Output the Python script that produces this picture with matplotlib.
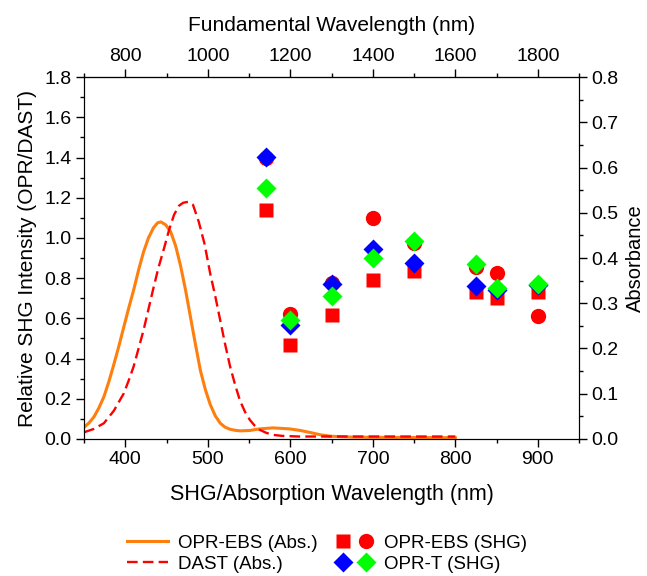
import numpy as np
import matplotlib
matplotlib.use('Agg')
import matplotlib.pyplot as plt
from matplotlib.ticker import MultipleLocator
from matplotlib.legend_handler import HandlerTuple
from matplotlib.lines import Line2D

plt.rcParams['font.family'] = ['Liberation Sans', 'DejaVu Sans']

# SHG data (relative intensity, left axis)
shg_wl = [570, 600, 650, 700, 750, 825, 850, 900]
ebs_square = [1.14, 0.465, 0.615, 0.79, 0.835, 0.73, 0.70, 0.73]
ebs_circle = [1.40, 0.62, 0.775, 1.10, 0.975, 0.855, 0.825, 0.61]
oprt_blue = [1.405, 0.565, 0.77, 0.945, 0.875, 0.76, 0.74, 0.765]
oprt_green = [1.25, 0.59, 0.71, 0.90, 0.985, 0.87, 0.75, 0.77]

# absorption spectra (right axis)
ebs_abs_wl = [350, 356, 362, 368, 374, 380, 386, 392, 398, 404, 410, 416, 422, 428,
              434, 439, 443, 449, 455, 461, 467, 473, 479, 485, 491, 497, 503, 509,
              515, 521, 527, 533, 539, 551, 563, 579, 599, 612, 624, 637, 650, 675,
              700, 800]
ebs_abs = [0.0258, 0.0356, 0.0489, 0.0689, 0.0933, 0.1267, 0.1644, 0.2044, 0.2467,
           0.2889, 0.3289, 0.3733, 0.4133, 0.4444, 0.4667, 0.4778, 0.4800, 0.4733,
           0.4578, 0.4267, 0.3822, 0.3289, 0.2689, 0.2089, 0.1511, 0.1089, 0.0756,
           0.0511, 0.0347, 0.0258, 0.0213, 0.0191, 0.0178, 0.0187, 0.0222, 0.0244,
           0.0222, 0.0187, 0.0142, 0.0089, 0.0058, 0.0040, 0.0036, 0.0027]
dast_abs_wl = [350, 362, 374, 386, 398, 404, 410, 416, 422, 428, 434, 440, 447, 453,
               459, 465, 470, 476, 482, 489, 496, 503, 509, 515, 521, 527, 533, 539,
               545, 551, 557, 563, 571, 579, 590, 610, 700, 800]
dast_abs = [0.0147, 0.0222, 0.0347, 0.0622, 0.1004, 0.1289, 0.1600, 0.2000, 0.2400,
            0.2867, 0.3333, 0.3778, 0.4222, 0.4622, 0.4956, 0.5156, 0.5222, 0.5244,
            0.5178, 0.4800, 0.4311, 0.3644, 0.3156, 0.2622, 0.2089, 0.1600, 0.1200,
            0.0844, 0.0600, 0.0418, 0.0289, 0.0200, 0.0133, 0.0089, 0.0067, 0.0053,
            0.0053, 0.0053]

orange = '#ff7f0e'
red = '#ff0000'
dash = (0, (4.5, 2.2))

fig = plt.figure(figsize=(6.47, 5.76), dpi=100)
ax = fig.add_axes([0.130, 0.238, 0.765, 0.628])
ax2 = ax.twinx()

# absorption curves
ax2.plot(ebs_abs_wl, ebs_abs, color=orange, lw=2.2, zorder=1)
ax2.plot(dast_abs_wl, dast_abs, color=red, lw=1.7, ls=dash, zorder=1)
ax2.set_ylim(0, 0.8)
ax2.yaxis.set_major_locator(MultipleLocator(0.1))
ax2.yaxis.set_minor_locator(MultipleLocator(0.05))
ax2.set_ylabel('Absorbance', fontsize=14.5, labelpad=5)

# SHG points on top
ax.set_zorder(ax2.get_zorder() + 1)
ax.patch.set_visible(False)
ax.plot(shg_wl, ebs_square, 's', color=red, ms=10, mec='none')
ax.plot(shg_wl, ebs_circle, 'o', color=red, ms=11, mec='none')
ax.plot(shg_wl, oprt_blue, 'D', color='#0000ff', ms=10, mec='none')
ax.plot(shg_wl, oprt_green, 'D', color='#00ff00', ms=10, mec='none')

ax.set_xlim(350, 950)
ax.set_ylim(0, 1.8)
ax.xaxis.set_minor_locator(MultipleLocator(50))
ax.yaxis.set_major_locator(MultipleLocator(0.2))
ax.yaxis.set_minor_locator(MultipleLocator(0.1))
ax.set_xticks([400, 500, 600, 700, 800, 900])
ax.set_xlabel('SHG/Absorption Wavelength (nm)', fontsize=15.5, labelpad=11)
ax.set_ylabel('Relative SHG Intensity (OPR/DAST)', fontsize=15, labelpad=5)

top = ax.secondary_xaxis('top', functions=(lambda x: x * 2, lambda x: x / 2))
top.set_xticks([800, 1000, 1200, 1400, 1600, 1800])
top.xaxis.set_minor_locator(MultipleLocator(100))
top.set_xlabel('Fundamental Wavelength (nm)', fontsize=15, labelpad=12)

for a in (ax, ax2, top):
    a.tick_params(which='major', direction='out', length=6, width=1, labelsize=14, pad=3)
    a.tick_params(which='minor', direction='out', length=3, width=1)

# legend
l_ebs = Line2D([], [], color=orange, lw=2.2)
l_dast = Line2D([], [], color=red, lw=1.7, ls=dash)
sq = Line2D([], [], marker='s', color=red, ls='none', ms=10, mec='none')
ci = Line2D([], [], marker='o', color=red, ls='none', ms=11, mec='none')
bd = Line2D([], [], marker='D', color='#0000ff', ls='none', ms=10, mec='none')
gd = Line2D([], [], marker='D', color='#00ff00', ls='none', ms=10, mec='none')
fig.legend([l_ebs, l_dast], ['OPR-EBS (Abs.)', 'DAST (Abs.)'], loc='upper left',
           bbox_to_anchor=(0.196, 0.072), frameon=False, fontsize=13.5,
           handlelength=2.2, labelspacing=0.22, handletextpad=0.55,
           borderpad=0, borderaxespad=0)
fig.legend([(sq, ci), (bd, gd)], ['OPR-EBS (SHG)', 'OPR-T (SHG)'], loc='upper left',
           bbox_to_anchor=(0.513, 0.072), frameon=False, fontsize=13.5,
           handlelength=2.4, labelspacing=0.22, handletextpad=0.4,
           borderpad=0, borderaxespad=0,
           handler_map={tuple: HandlerTuple(ndivide=None, pad=0)})

fig.savefig('out.png', dpi=100)
